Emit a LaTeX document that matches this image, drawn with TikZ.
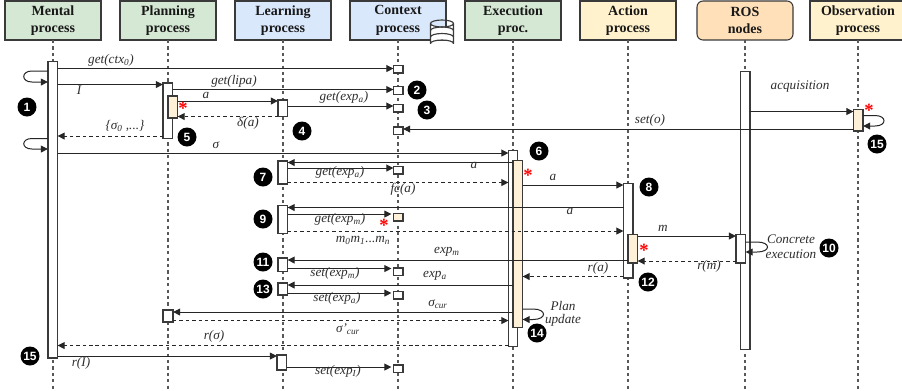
\documentclass[tikz,border=0pt]{standalone}
\usepackage{fontspec}
\setmainfont{Liberation Serif}
\newfontfamily\numfont{Liberation Sans}
\usetikzlibrary{arrows.meta}
\definecolor{hgreen}{HTML}{D5E8D4}
\definecolor{hblue}{HTML}{DAE8FC}
\definecolor{hyellow}{HTML}{FFF2CC}
\definecolor{hros}{HTML}{FFE0B8}
\definecolor{hotfill}{HTML}{FFF0D8}
\definecolor{edge}{HTML}{3A3A3A}
\definecolor{txt}{HTML}{2E2E2E}
\tikzset{
  header/.style={draw=edge,line width=0.8pt,inner sep=0pt,outer sep=0pt,align=center,
    minimum width=72pt,minimum height=29.25pt,text=black!90,
    execute at begin node={\rule{0pt}{8.6pt}},
    font=\fontsize{10.5}{13}\selectfont\bfseries},
  lifeline/.style={draw=edge!85,line width=0.8pt,dash pattern=on 2.4pt off 2.4pt},
  barbox/.style={draw=edge,line width=0.8pt,fill=white,inner sep=0pt,outer sep=0pt},
  hot/.style={fill=hotfill},
  msg/.style={draw=black!85,line width=0.75pt,-{Triangle[length=5.4pt,width=5.2pt]}},
  ret/.style={msg,dash pattern=on 2.6pt off 2.2pt},
  lbl/.style={inner sep=0pt,text=txt,font=\fontsize{9.9}{12}\selectfont\itshape,align=center},
  num/.style={circle,fill=black,text=white,inner sep=0pt,minimum size=14.25pt,
    font=\fontsize{9}{9}\selectfont\numfont\bfseries},
  redstar/.style={anchor=base,inner sep=0pt,text=red,font=\fontsize{14}{14}\selectfont\bfseries}
}
% name, x1, y1, x2, y2, extra style
\newcommand{\actbar}[6]{\node[barbox,#6,minimum width={(#4-#2)*0.75pt},minimum height={(#5-#3)*0.75pt}]
  (#1) at ({(#2+#4)/2},{(#3+#5)/2}) {};}
\begin{document}
\begin{tikzpicture}[x=0.75pt,y=-0.75pt]
\useasboundingbox (0,0) rectangle (902,390);
\clip (0,0) rectangle (902,390);
\fill[white] (0,0) rectangle (902,390);
% headers
\node[header,fill=hgreen] (hM) at (53,20.5) {Mental\\process};
\node[header,fill=hgreen] (hP) at (168,20.5) {Planning\\process};
\node[header,fill=hblue] (hL) at (283,20.5) {Learning\\process};
\node[header,fill=hblue] (hC) at (398,20.5) {Context\\process};
\node[header,fill=hgreen] (hE) at (513,20.5) {Execution\\proc.};
\node[header,fill=hyellow] (hA) at (628,20.5) {Action\\process};
\node[header,fill=hros,rounded corners=4.5pt] (hR) at (745,20.5) {ROS\\nodes};
\node[header,fill=hyellow] (hO) at (858,20.5) {Observation\\process};
% lifeline ends
\foreach \n/\x in {M/53,P/168,L/283,C/398,E/513,A/628,R/745,O/858}{
  \coordinate (end\n) at (\x,390);
  \draw[lifeline] (h\n.south) -- (end\n);
}
% database icon
\draw[edge,line width=0.85pt,fill=white,line join=round]
  (430.5,23.5) -- (430.5,43.5) arc[start angle=180,end angle=360,x radius=11.5,y radius=3.5]
  -- (453.5,23.5) arc[start angle=0,end angle=180,x radius=11.5,y radius=3.5] -- cycle;
\draw[edge,line width=0.85pt] (430.5,23.5) arc[start angle=180,end angle=360,x radius=11.5,y radius=3.5];
\draw[edge,line width=0.85pt] (430.5,30.5) arc[start angle=180,end angle=360,x radius=11.5,y radius=3.5];
\draw[edge,line width=0.85pt] (430.5,37) arc[start angle=180,end angle=360,x radius=11.5,y radius=3.5];
% activation bars
\actbar{mB}{48}{61.5}{57.5}{358}{}
\actbar{pA}{163}{83}{172.5}{138.5}{}
\actbar{pH}{168}{96}{177.5}{118}{hot}
\actbar{pZ}{163}{310}{173}{322}{}
\actbar{lA}{278}{100}{287.5}{116.5}{}
\actbar{lB}{278}{161}{287.5}{184}{}
\actbar{lC}{278}{205.5}{287.5}{233.5}{}
\actbar{lD}{278}{258}{287.5}{271.5}{}
\actbar{lE}{278}{283}{287.5}{295}{}
\actbar{lF}{277}{355}{286.5}{370}{}
\actbar{cA}{393.5}{65.5}{403}{73}{}
\actbar{cB}{393.5}{86.5}{403}{94.5}{}
\actbar{cC}{393.5}{104.5}{403}{112}{}
\actbar{cD}{393.5}{127}{403}{134.5}{}
\actbar{cE}{393.5}{166.5}{403}{174}{}
\actbar{cF}{393.5}{213.5}{403}{221}{hot}
\actbar{cG}{393.5}{268}{403}{275.5}{}
\actbar{cH}{393.5}{291.5}{403}{299}{}
\actbar{cI}{393.5}{365}{403}{372.5}{}
\actbar{eA}{508.5}{150.5}{517.5}{346.5}{}
\actbar{eH}{513}{160.5}{522.5}{327.5}{hot}
\actbar{aA}{623.5}{183.5}{633}{278}{}
\actbar{aH}{628}{234.5}{637.5}{263}{hot}
\actbar{rA}{740.5}{71.5}{750}{349.5}{}
\actbar{rH}{736}{234.5}{745.5}{263}{}
\actbar{oH}{853.5}{109.5}{863}{131}{hot}
% connectors
\draw[msg] (mB.west |- 0,71) -- (32,71) .. controls (21,71) and (21,82) .. (32,82) -- (mB.west |- 0,82);
\draw[msg] (mB.west |- 0,138.5) -- (32,138.5) .. controls (21,138.5) and (21,149) .. (32,149) -- (mB.west |- 0,149);
\draw[msg] (mB.east |- 0,68.5) -- (cA.west |- 0,68.5);
\draw[msg] (mB.east |- 0,84.5) -- (pA.west |- 0,84.5);
\draw[msg] (pA.east |- 0,89.5) -- (cB.west |- 0,89.5);
\draw[msg] (pH.east |- 0,101) -- (lA.west |- 0,101);
\draw[msg] (lA.east |- 0,106) -- (cC.west |- 0,106);
\draw[ret] (lA.west |- 0,116.5) -- (pH.east |- 0,116.5);
\draw[ret] (pA.west |- 0,136) -- (mB.east |- 0,136);
\draw[msg] (mB.east |- 0,153) -- (eA.west |- 0,153);
\draw[msg] (rA.east |- 0,111.5) -- (oH.west |- 0,111.5);
\draw[msg] (oH.west |- 0,129) -- (cD.east |- 0,129);
\draw[msg] (oH.east |- 0,115.5) -- (875,115.5) .. controls (887,115.5) and (887,126) .. (875,126) -- (oH.east |- 0,126);
\draw[msg] (eH.west |- 0,162.5) -- (lB.east |- 0,162.5);
\draw[msg] (lB.east |- 0,168) -- (cE.west |- 0,168);
\draw[ret] (lB.east |- 0,182.5) -- (eA.west |- 0,182.5);
\draw[msg] (eH.east |- 0,185) -- (aA.west |- 0,185);
\draw[msg] (aA.west |- 0,207.5) -- (lC.east |- 0,207.5);
\draw[msg] (lC.east |- 0,214) -- ([xshift=-1.5pt]cF.west |- 0,214);
\draw[ret] (lC.east |- 0,231) -- (aA.west |- 0,231);
\draw[msg] (aH.east |- 0,236) -- (rH.west |- 0,236);
\draw[ret] (rH.west |- 0,261) -- (aH.east |- 0,261);
\draw[msg] (rH.east |- 0,242) -- (757,242) .. controls (771,242) and (771,252) .. (757,252) -- (rH.east |- 0,252);
\draw[msg] (aH.west |- 0,260) -- (lD.east |- 0,260);
\draw[msg] (lD.east |- 0,268.5) -- ([xshift=-1.5pt]cG.west |- 0,268.5);
\draw[msg] (eH.west |- 0,285) -- (lE.east |- 0,285);
\draw[msg] (lE.east |- 0,293) -- ([xshift=-1.5pt]cH.west |- 0,293);
\draw[ret] (aA.west |- 0,276.5) -- (eH.east |- 0,276.5);
\draw[msg] (eH.west |- 0,312) -- (pZ.east |- 0,312);
\draw[ret] (pZ.east |- 0,320.5) -- (eA.west |- 0,320.5);
\draw[msg] (eH.east |- 0,309) -- (533,309) .. controls (547,309) and (547,319.5) .. (533,319.5) -- (eH.east |- 0,319.5);
\draw[ret] (eA.west |- 0,345.5) -- (mB.east |- 0,345.5);
\draw[msg] (mB.east |- 0,356) -- (lF.west |- 0,356);
\draw[msg] (lF.east |- 0,367) -- ([xshift=-1.5pt]cI.west |- 0,367);
% labels
\node[lbl] (t1) at (111,60) {get(ctx\textsubscript{0})};
\node[lbl] (t2) at (79,90) {I};
\node[lbl] (t3) at (234,81) {get(lipa)};
\node[lbl] (t4) at (206,95) {a};
\node[lbl] (t5) at (344,97) {get(exp\textsubscript{a})};
\node[lbl] (t6) at (248,123) {δ(a)};
\node[lbl] (t7) at (125,126) {\{σ\textsubscript{0} ,...\}};
\node[lbl] (t8) at (216,145) {σ};
\node[lbl] (t9) at (800,87) {acquisition};
\node[lbl] (t10) at (650,120) {set(o)};
\node[lbl] (t11) at (474,165) {a};
\node[lbl] (t12) at (340,172) {get(exp\textsubscript{a})};
\node[lbl] (t13) at (403,189) {fc(a)};
\node[lbl] (t14) at (553,177) {a};
\node[lbl] (t15) at (570,211) {a};
\node[lbl] (t16) at (340,219) {get(exp\textsubscript{m})};
\node[lbl] (t17) at (363,240.5) {m\textsubscript{0}m\textsubscript{1}...m\textsubscript{n}};
\node[lbl] (t18) at (663,228) {m};
\node[lbl] (t19) at (709,266) {r(m)};
\node[lbl] (t20) at (791,239) {Concrete};
\node[lbl] (t21) at (791,254) {execution};
\node[lbl] (t22) at (447,252) {exp\textsubscript{m}};
\node[lbl] (t23) at (335,273) {set(exp\textsubscript{m})};
\node[lbl] (t24) at (435,276) {exp\textsubscript{a}};
\node[lbl] (t25) at (337,298) {set(exp\textsubscript{a})};
\node[lbl] (t26) at (598,268) {r(a)};
\node[lbl] (t27) at (438,304) {σ\textsubscript{cur}};
\node[lbl] (t28) at (348,329) {σ'\textsubscript{cur}};
\node[lbl] (t29) at (563,306) {Plan};
\node[lbl] (t30) at (563,320) {update};
\node[lbl] (t31) at (214,336) {r(σ)};
\node[lbl] (t32) at (81,363) {r(I)};
\node[lbl] (t33) at (338,371) {set(exp\textsubscript{I})};
% numbered markers
\node[num] (n1) at (27,107) {1};
\node[num] (n2) at (417,90) {2};
\node[num] (n3) at (427,110) {3};
\node[num] (n4) at (302,131) {4};
\node[num] (n5) at (187,137) {5};
\node[num] (n6) at (539,151) {6};
\node[num] (n7) at (263,177) {7};
\node[num] (n8) at (649,187) {8};
\node[num] (n9) at (263,219) {9};
\node[num] (n10) at (829,248) {10};
\node[num] (n11) at (263,262) {11};
\node[num] (n12) at (648,282) {12};
\node[num] (n13) at (263,289) {13};
\node[num] (n14) at (537,333) {14};
\node[num] (n15) at (877,144) {15};
\node[num] (n16) at (30,356) {15};
% red stars
\node[redstar] (s1) at (183,114) {\smash{*}};
\node[redstar] (s2) at (528,181) {\smash{*}};
\node[redstar] (s3) at (869,116) {\smash{*}};
\node[redstar] (s4) at (644,256) {\smash{*}};
\node[redstar] (s5) at (384,231) {\smash{*}};
\end{tikzpicture}
\end{document}
